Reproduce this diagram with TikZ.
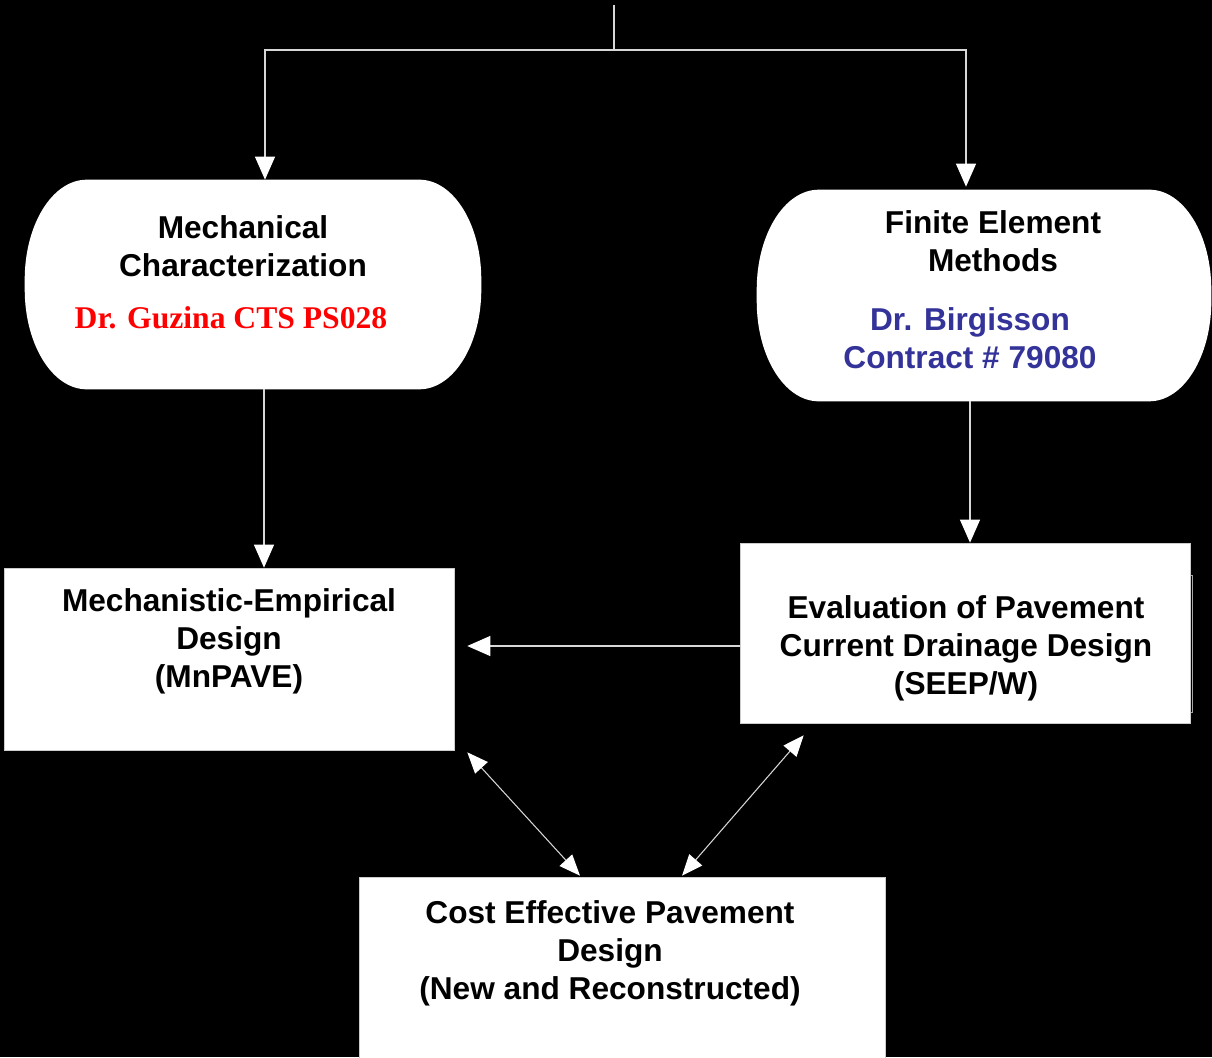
\documentclass[tikz,border=0pt]{standalone}
\usepackage{fontspec}
\setmainfont{Liberation Sans}
\newfontfamily\timesbold{Liberation Serif}
\usepackage{xcolor}
\usepackage{tikz}
\usetikzlibrary{arrows.meta, calc}

\definecolor{guzinared}{RGB}{255,0,0}
\definecolor{birgblue}{RGB}{51,51,153}
\definecolor{wirecol}{RGB}{215,215,215}

% white pill with elliptic corners round a named node
\newcommand{\pillfill}[1]{%
    \fill[white] ($(#1.north west)+(62,0)$) -- ($(#1.north east)+(-62,0)$)
        arc[start angle=90, end angle=0, x radius=1.24cm, y radius=2cm]
        -- ($(#1.south east)+(0,-100)$)
        arc[start angle=0, end angle=-90, x radius=1.24cm, y radius=2cm]
        -- ($(#1.south west)+(62,0)$)
        arc[start angle=-90, end angle=-180, x radius=1.24cm, y radius=2cm]
        -- ($(#1.north west)+(0,100)$)
        arc[start angle=180, end angle=90, x radius=1.24cm, y radius=2cm] -- cycle;}

\begin{document}
\begin{tikzpicture}[x=0.02cm, y=-0.02cm,
        pill/.style={rectangle, inner sep=0pt},
        panel/.style={rectangle, fill=white, draw=gray!40, line width=0.4pt, inner sep=0pt},
        ghost/.style={draw=gray!70, line width=0.4pt},
        heading/.style={font=\fontsize{18}{21.6}\selectfont\bfseries, align=center, inner sep=0pt, text=black},
        wire/.style={draw=wirecol, line width=0.6pt},
        arrow/.style={wire, -{Triangle[length=0.46cm, width=0.4cm, color=white]}},
        twoway/.style={wire, {Triangle[length=0.42cm, width=0.34cm, color=white]}-{Triangle[length=0.42cm, width=0.34cm, color=white]}}]
            \fill[black] (0,0) rectangle (1212,1057);
            \useasboundingbox (0,0) rectangle (1212,1057);

            % top row
            \node[pill, minimum width=9.12cm, minimum height=4.18cm] (mech) at (253,284.5) {};
            \pillfill{mech}
            \node[heading] (mech-txt) at (243,246) {Mechanical\\Characterization};
            \node[heading, font=\timesbold\fontsize{18}{21.6}\selectfont\bfseries, text=guzinared] (mech-pi) at (231,317.5) {Dr. Guzina CTS PS028};

            \draw[ghost, fill=white] (820,191) -- (1157,191) -- (1157,386) -- (789,386) -- (789,370);
            \node[pill, minimum width=9.08cm, minimum height=4.22cm] (fem) at (984,295.5) {};
            \pillfill{fem}
            \node[heading] (fem-txt) at (993,241.5) {Finite Element\\Methods};
            \node[heading, text=birgblue] (fem-pi) at (970,338) {Dr. Birgisson\\Contract \# 79080};

            % middle row
            \node[panel, minimum width=9cm, minimum height=3.64cm] (mnpave) at (229,659) {};
            \node[heading] (mnpave-txt) at (229,641) {Mechanistic-Empirical\\Design\\(MnPAVE)};

            \draw[ghost] (745,575) rectangle (1192,712);
            \node[panel, minimum width=9cm, minimum height=3.6cm] (eval) at (965,633) {};
            \node[heading] (eval-txt) at (966,648) {Evaluation of Pavement\\Current Drainage Design\\(SEEP/W)};

            % bottom
            \node[panel, minimum width=10.52cm, minimum height=3.7cm] (cost) at (622,969.5) {};
            \node[heading] (cost-txt) at (610,953) {Cost Effective Pavement\\Design\\(New and Reconstructed)};

            % connectors
            \coordinate (feed) at (614,5);
            \coordinate (split) at (614,50);
            \draw[wire] (feed) -- (split);
            \draw[arrow] (split) -| ($(mech.north)+(12,0)$);
            \draw[arrow] (split) -| ($(fem.north)+(-18,-3)$);
            \draw[arrow] ($(mech.south)+(11,0)$) -- ($(mnpave.north)+(35,0)$);
            \draw[arrow] ($(fem.south)+(-14,0)$) -- ($(eval.north)+(5,0)$);
            \draw[arrow] ($(eval.west)+(0,13)$) -- ($(mnpave.east)+(13,-13)$);
            \draw[twoway] ($(mnpave.south east)+(13,2)$) -- ($(cost.north)+(-42,-1)$);
            \draw[twoway] ($(eval.south west)+(64,12)$) -- ($(cost.north)+(60,-1)$);
        \end{tikzpicture}
\end{document}
